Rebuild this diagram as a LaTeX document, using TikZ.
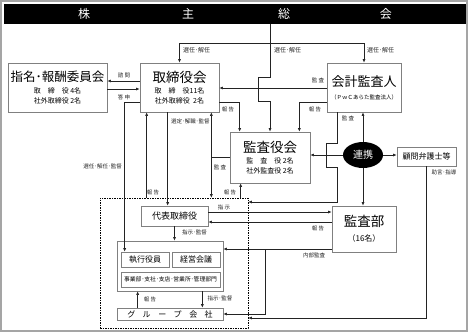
\documentclass[tikz,border=0pt]{standalone}
\usepackage{fontspec}
\setmainfont{Noto Sans CJK JP}
\usetikzlibrary{arrows.meta,positioning,shapes.geometric}
\definecolor{boxgray}{RGB}{128,128,128}
\definecolor{linegray}{RGB}{35,35,35}
\definecolor{framegray}{RGB}{165,165,165}
\newcommand{\ttl}{\fontsize{13.5}{15}\selectfont}
\newcommand{\spreadthree}[3]{\makebox[5em][s]{#1\hfill#2\hfill#3}}

\begin{document}
\begin{tikzpicture}[x=1pt,y=-1pt,>={Latex[length=3.5pt,width=3pt]},
  box/.style={draw=boxgray, line width=0.7pt, inner sep=0pt, align=center, font=\fontsize{7}{10}\selectfont},
  lbl/.style={font=\fontsize{5.5}{6}\selectfont, inner sep=0pt, text=linegray},
  ln/.style={draw=linegray, line width=0.6pt}]
  \useasboundingbox (0,0) rectangle (469,333);
  \draw[framegray, line width=1.2pt] (1,1) rectangle (467,331);
  % Shareholders' meeting banner
  \node[fill=black, text=white, inner sep=0pt, minimum width=462pt, minimum height=20pt,
    font=\fontsize{12}{12}\selectfont] (soukai) at (235,14)
    {株\hspace{92pt}主\hspace{84pt}総\hspace{90pt}会};
  % Boards and committees
  \node[box, minimum width=99pt, minimum height=49pt] (nomi) at (57.5,87.5)
    {{\fontsize{12.5}{15}\selectfont 指名･報酬委員会}\\[1.5pt]\spreadthree{取}{締}{役}\ 4名\\社外取締役\ 2名};
  \node[box, minimum width=79pt, minimum height=49pt] (tori) at (179.5,87.5)
    {{\ttl 取締役会}\\[1.5pt]\spreadthree{取}{締}{役}11名\\社外取締役\ \ 2名};
  \node[box, minimum width=74pt, minimum height=49pt] (kaikei) at (364,87.5)
    {{\fontsize{13}{15}\selectfont 会計監査人}\\[3pt]{\fontsize{5.5}{7}\selectfont （ＰｗＣあらた監査法人）}};
  \node[box, minimum width=80pt, minimum height=51pt] (kansayaku) at (270,157.5)
    {{\ttl 監査役会}\\[1.5pt]\spreadthree{監}{査}{役}\ 2名\\社外監査役\ 2名};
  \node[ellipse, fill=black, text=white, inner sep=0pt, minimum width=40pt, minimum height=26pt,
    font=\fontsize{10}{10}\selectfont] (renkei) at (363,155) {連携};
  \node[box, minimum width=59pt, minimum height=19pt, font=\fontsize{8}{8}\selectfont] (komon)
    at (426.5,156.5) {顧問弁護士等};
  \node[box, minimum width=64pt, minimum height=46pt] (kansabu) at (364,229)
    {{\ttl 監査部}\\[5pt]{\fontsize{8}{8}\selectfont （16名）}};
  % Executive side
  \node[draw=black, line width=0.6pt, dash pattern=on 1.5pt off 1pt, inner sep=0pt,
    minimum width=148pt, minimum height=130pt] (dash) at (174,263) {};
  \node[box, minimum width=67pt, minimum height=20pt, font=\fontsize{9}{9}\selectfont] (daihyo)
    at (174.5,216) {代表取締役};
  \node[box, minimum width=106pt, minimum height=50pt] (shikkou) at (170,266) {};
  \node[box, minimum width=48pt, minimum height=15pt, font=\fontsize{8}{8}\selectfont] (yakuin)
    at (145,259.5) {執行役員};
  \node[box, minimum width=48pt, minimum height=15pt, font=\fontsize{8}{8}\selectfont] (kaigi)
    at (196,259.5) {経営会議};
  \node[box, minimum width=99pt, minimum height=15pt, font=\fontsize{5.8}{6}\selectfont] (bumon)
    at (170.5,279.5) {事業部･支社･支店･営業所･管理部門};
  \node[box, minimum width=106pt, minimum height=12pt, font=\fontsize{8}{8}\selectfont] (group)
    at (170,314) {グ\hspace{7.5pt}ル\hspace{7.5pt}ー\hspace{7.5pt}プ\hspace{7.5pt}会\hspace{7.5pt}社};

  % Appointment from the meeting
  \coordinate (sj) at (270,43);
  \draw[ln] (soukai.south -| sj) -- (sj);
  \draw[ln,->] (sj) -| (tori.north);
  \draw[ln,->] (sj) -| (kaikei.north);
  \draw[ln,->] (sj) -- ++(0,34) -- ++(-12,0) -- ++(0,24) -- ++(12,0) -- (kansayaku.north);
  \foreach \x in {183,274,367}
    \node[lbl, anchor=west, font=\fontsize{6}{6}\selectfont] (sen\x) at (\x,50) {選任･解任};
  % Board and committee
  \draw[ln,->] (tori.west |- 0,81) -- (nomi.east |- 0,81);
  \draw[ln,->] (nomi.east |- 0,89) -- (tori.west |- 0,89);
  \node[lbl] (lshimon) at (124,75) {諮 問};
  \node[lbl] (ltoushin) at (124,97) {答 申};
  % Accounting auditor
  \draw[ln,->] (kaikei.west |- 0,88) -- (tori.east |- 0,88);
  \node[lbl] (lkansa1) at (318,80) {監 査};
  \draw[ln,->] (tori.east |- 0,102) -| ([xshift=10pt]kansayaku.north west);
  \node[lbl] (lhoukoku1) at (228,109) {報 告};
  \draw[ln,->] (kaikei.west |- 0,102) -| ([xshift=-11pt]kansayaku.north east);
  \node[lbl] (lhoukoku2) at (315,109) {報 告};
  \draw[ln,->] ([xshift=11pt]kaikei.south west) -- ++(0,31) -- ++(-11,0) -- ++(0,24) -- ++(11,0)
    |- (dash.east |- 0,202);
  \node[lbl] (lkansa2) at (348,118) {監 査};
  % Cooperation
  \draw[ln,->] (renkei.north) -- (renkei.north |- kaikei.south);
  \draw[ln,->] (renkei.south) -- (renkei.south |- kansabu.north);
  \draw[ln,->] (renkei.west) -- (kansayaku.east |- renkei.west);
  \draw[ln,->] (renkei.east) -- (komon.west |- renkei.east);
  \draw[ln,->] (komon.south) |- (dash.east |- 0,318);
  \node[lbl] (ljogen) at (444,172) {助言･指導};
  % Board to executives
  \draw[ln,<-] ([xshift=7pt]tori.south west) coordinate (t1) -- (t1 |- dash.north);
  \node[lbl] (lhoukoku3) at (153,192) {報 告};
  \draw[ln,->] ([xshift=28pt]tori.south west) coordinate (t2) -- (t2 |- daihyo.north);
  \node[lbl, anchor=west] (lsentei) at (171,121) {選定･解職･監督};
  \draw[ln,->] (tori.west |- 0,102) -| ([xshift=4pt]yakuin.north west);
  \node[lbl, anchor=east] (lsennin) at (122,166) {選任･解任･監督};
  \draw[ln,<->] ([xshift=-8pt]tori.south east) coordinate (t3) -- (t3 |- dash.north);
  \draw[ln] (kansayaku.west |- 0,157) -- (t3 |- 0,157);
  \node[lbl] (lkansa3) at (220,167) {監 査};
  \draw[ln,<-] ([xshift=11pt]kansayaku.south west) coordinate (t4) -- (t4 |- dash.north);
  \node[lbl] (lhoukoku4) at (230,192) {報 告};
  % Internal audit
  \draw[ln,->] (daihyo.east |- 0,212) -- (kansabu.west |- 0,212);
  \node[lbl] (lshiji) at (224,207) {指 示};
  \draw[ln,->] (kansabu.west |- 0,222) -- (daihyo.east |- 0,222);
  \node[lbl] (lhoukoku5) at (318,228) {報 告};
  \coordinate (naibu) at (265,249);
  \draw[ln,->] (kansabu.west |- naibu) -- (shikkou.east |- naibu);
  \draw[ln,->] (naibu) |- (group.east);
  \node[lbl] (lnaibu) at (314,255) {内部監査};
  % Executives and group companies
  \draw[ln,->] (daihyo.south) -- (daihyo.south |- shikkou.north);
  \node[lbl, anchor=west] (lshiji2) at (182,232) {指示･監督};
  \draw[ln,->] ([xshift=21pt]group.north west) coordinate (g1) -- (g1 |- shikkou.south);
  \node[lbl] (lhoukoku6) at (150,299) {報 告};
  \draw[ln,->] ([xshift=-21pt]shikkou.south east) coordinate (g2) -- (g2 |- group.north);
  \node[lbl] (lshiji3) at (220,298) {指示･監督};
\end{tikzpicture}
\end{document}
